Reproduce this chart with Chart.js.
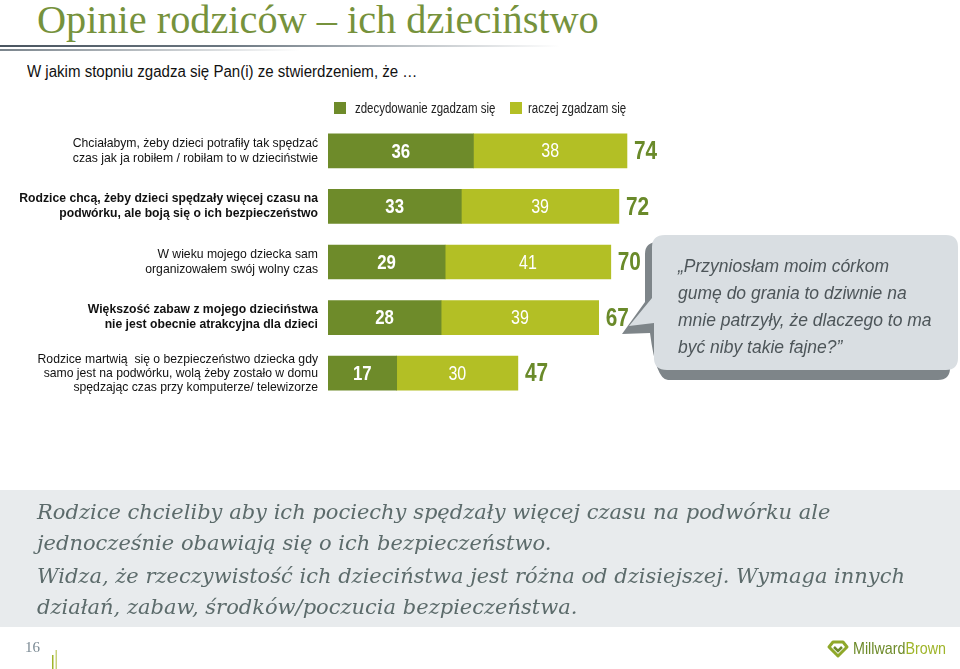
<!DOCTYPE html>
<html><head><meta charset="utf-8">
<script src="https://cdn.jsdelivr.net/npm/chart.js@4.4.1/dist/chart.umd.min.js"></script>
<style>
html,body{margin:0;padding:0;background:#fff;}
#wrap{position:relative;width:960px;height:669px;overflow:hidden;font-family:"Liberation Sans",Arial,sans-serif;}
#c{position:absolute;left:0;top:0;}
.abs{position:absolute;}
.nar{display:inline-block;transform-origin:0 50%;}
#title{left:37px;top:-4px;font-family:"Liberation Serif","Times New Roman",serif;font-size:40.3px;color:#76923c;white-space:nowrap;}
#tline1{left:0;top:45px;width:560px;height:2px;background:linear-gradient(to right,#4a5560 0%,#6a7680 40%,rgba(255,255,255,0) 100%);}
#tline2{left:0;top:49px;width:300px;height:2px;background:linear-gradient(to right,#7a848c 0%,rgba(255,255,255,0) 100%);}
#sub{left:27px;top:63px;font-size:16px;color:#111;white-space:nowrap;}
#legend{top:100px;font-size:14px;color:#222;white-space:nowrap;}
.sq{width:12px;height:12px;top:102px;}
#band{left:0;top:490px;width:960px;height:137px;background:#e8ebed;}
#btext{left:37px;top:497px;font-family:"DejaVu Serif",Georgia,serif;font-style:italic;font-size:21px;color:#5c6b6b;line-height:31px;white-space:nowrap;}
#pg{left:25px;top:639px;font-family:"Liberation Serif",serif;font-size:15px;color:#7b8a94;}
</style></head>
<body><div id="wrap">
<div id="title" class="abs">Opinie rodziców – ich dzieciństwo</div>
<div id="tline1" class="abs"></div><div id="tline2" class="abs"></div>
<div id="sub" class="abs"><span class="nar" style="transform:scaleX(0.94)">W jakim stopniu zgadza się Pan(i) ze stwierdzeniem, że …</span></div>
<canvas id="c" width="960" height="669"></canvas>
<div class="abs sq" style="left:334px;background:#6e8b2a"></div>
<div id="legend" class="abs" style="left:355px"><span class="nar" style="transform:scaleX(0.82)">zdecydowanie zgadzam się</span></div>
<div class="abs sq" style="left:510px;background:#b3bf25"></div>
<div id="legend2" class="abs" style="left:528px;top:100px;font-size:14px;color:#222;white-space:nowrap"><span class="nar" style="transform:scaleX(0.82)">raczej zgadzam się</span></div>
<svg class="abs" style="left:0;top:0" width="960" height="669">
  <path d="M658,242 Q645,242 645,254 L645,302 L622,334 L650,333 Q656,380 668,380 L938,380 Q950,380 950,368 L950,254 Q950,242 938,242 Z" fill="#7e8589"/>
  <path d="M665,235 Q652,235 652,247 L652,298 L629,326 L654,323 L654,358 Q654,370 667,370 L946,370 Q958,370 958,358 L958,247 Q958,235 946,235 Z" fill="#d9dee2"/>
  <text font-family="Liberation Sans, Arial, sans-serif" font-style="italic" font-size="17.5" fill="#4d5559">
    <tspan x="678" y="272">„Przyniosłam moim córkom</tspan>
    <tspan x="678" y="299">gumę do grania to dziwnie na</tspan>
    <tspan x="678" y="326">mnie patrzyły, że dlaczego to ma</tspan>
    <tspan x="678" y="353">być niby takie fajne?”</tspan>
  </text>
</svg>
<div id="band" class="abs"></div>
<div id="btext" class="abs">Rodzice chcieliby aby ich pociechy spędzały więcej czasu na podwórku ale<br>jednocześnie obawiają się o ich bezpieczeństwo.<br><span style="display:inline-block;margin-top:2px">Widza, że rzeczywistość ich dzieciństwa jest różna od dzisiejszej. Wymaga innych</span><br>działań, zabaw, środków/poczucia bezpieczeństwa.</div>
<div id="pg" class="abs">16</div>
<svg class="abs" style="left:0;top:0;pointer-events:none" width="960" height="669">
  <rect x="52" y="655" width="1.5" height="14" fill="#9fb52a"/>
  <rect x="55.5" y="650" width="1.5" height="19" fill="#c8d27a"/>
  <g transform="translate(829,640)">
    <path d="M9,2 L4,2 L0,7 L9,16 L18,7 L14,2 Z" fill="none" stroke="#8fa82a" stroke-width="3" stroke-linejoin="round"/>
    <path d="M5,7 L9,11 L13,7" fill="none" stroke="#6e8b2a" stroke-width="2.5"/>
  </g>
  <text x="853" y="654" font-family="Liberation Sans, sans-serif" font-size="17" fill="#6e8b2a" textLength="93" lengthAdjust="spacingAndGlyphs">Millward<tspan fill="#9fb52a">Brown</tspan></text>
</svg>
</div>
<script>
const categories = [
  ["Chciałabym, żeby dzieci potrafiły tak spędzać","czas jak ja robiłem / robiłam to w dzieciństwie"],
  ["Rodzice chcą, żeby dzieci spędzały więcej czasu na","podwórku, ale boją się o ich bezpieczeństwo"],
  ["W wieku mojego dziecka sam","organizowałem swój wolny czas"],
  ["Większość zabaw z mojego dzieciństwa","nie jest obecnie atrakcyjna dla dzieci"],
  ["Rodzice martwią  się o bezpieczeństwo dziecka gdy","samo jest na podwórku, wolą żeby zostało w domu","spędzając czas przy komputerze/ telewizorze"]
];
const boldCategory = [false, true, false, true, false];
const seriesNames = ["zdecydowanie zgadzam się", "raczej zgadzam się"];
const strongly = [36, 33, 29, 28, 17];
const rather = [38, 39, 41, 39, 30];
const totals = [74, 72, 70, 67, 47];

const DARK = "#6e8b2a", LIGHT = "#b3bf25";
const sans = "'Liberation Sans',Arial,sans-serif";

function narrowText(ctx, text, x, y, sx, align) {
  ctx.save();
  ctx.translate(x, y);
  ctx.scale(sx, 1);
  ctx.textAlign = align;
  ctx.fillText(text, 0, 0);
  ctx.restore();
}

const labelsPlugin = {
  id: "labels",
  afterDatasetsDraw(chart) {
    const ctx = chart.ctx;
    const y = chart.scales.y;
    ctx.save();
    ctx.textBaseline = "middle";
    categories.forEach((lines, i) => {
      const cy = y.getPixelForValue(i);
      ctx.font = (boldCategory[i] ? "bold " : "") + "12.2px " + sans;
      ctx.fillStyle = "#111";
      ctx.textAlign = "right";
      const lh = lines.length > 2 ? 14 : 15;
      const start = cy - (lines.length - 1) * lh / 2;
      lines.forEach((t, k) => ctx.fillText(t, 318, start + k * lh));
    });
    chart.data.datasets.forEach((ds, di) => {
      const meta = chart.getDatasetMeta(di);
      meta.data.forEach((bar, i) => {
        const cx = (bar.x + bar.base) / 2;
        ctx.fillStyle = "#fff";
        ctx.font = (di === 0 ? "bold 21px " : "20px ") + sans;
        narrowText(ctx, String(ds.data[i]), cx, bar.y + 1, 0.8, "center");
      });
    });
    const last = chart.getDatasetMeta(1);
    last.data.forEach((bar, i) => {
      ctx.fillStyle = "#6a8a2a";
      ctx.font = "bold 26px " + sans;
      narrowText(ctx, String(totals[i]), bar.x + 7, bar.y + 1, 0.8, "left");
    });
    ctx.restore();
  }
};

new Chart(document.getElementById("c"), {
  type: "bar",
  data: {
    labels: categories,
    datasets: [
      { label: seriesNames[0], data: strongly, backgroundColor: DARK, barThickness: 34, borderWidth: 0 },
      { label: seriesNames[1], data: rather, backgroundColor: LIGHT, barThickness: 34, borderWidth: 0 }
    ]
  },
  options: {
    indexAxis: "y",
    responsive: false,
    animation: false,
    layout: { padding: { left: 328, right: 228, top: 123, bottom: 268 } },
    plugins: { legend: { display: false }, tooltip: { enabled: false } },
    scales: {
      x: { stacked: true, min: 0, max: 100, display: false },
      y: { stacked: true, display: false }
    }
  },
  plugins: [labelsPlugin]
});
</script>
</body></html>
